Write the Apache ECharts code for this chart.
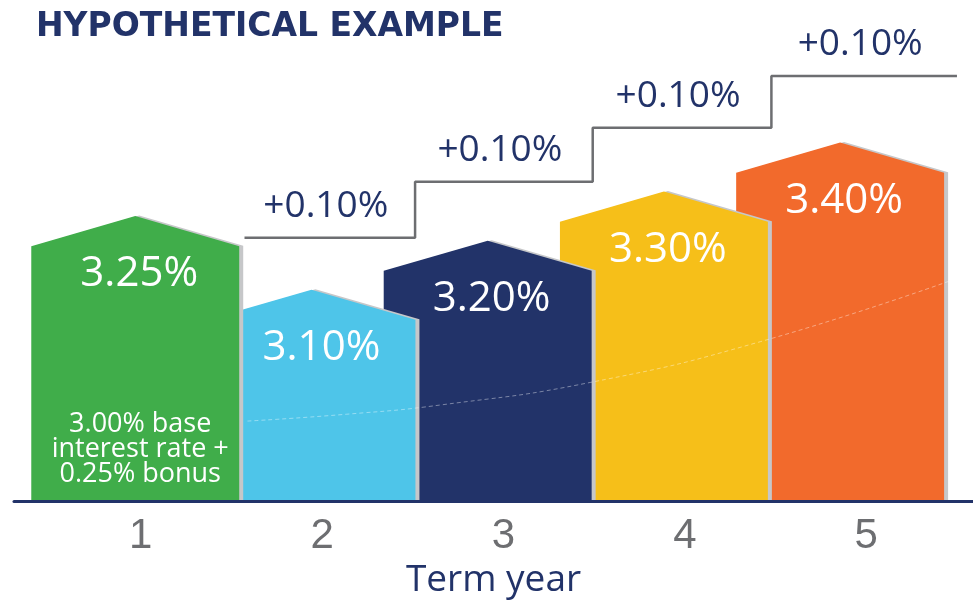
<!DOCTYPE html>
<html>
<head>
<meta charset="utf-8">
<script src="https://cdn.jsdelivr.net/npm/echarts@6/dist/echarts.min.js"></script>
<style>html,body{margin:0;padding:0;background:#fff}#chart{width:973px;height:600px}</style>
</head>
<body>
<div id="chart"></div>
<script>
// ---- data ----
const categories = ['1', '2', '3', '4', '5'];
const rates = [3.25, 3.10, 3.20, 3.30, 3.40];
const rateLabels = ['3.25%', '3.10%', '3.20%', '3.30%', '3.40%'];
const noteText = '3.00% base\ninterest rate +\n0.25% bonus';
const stepX = [1.62, 2.588, 3.596, 4.61, 5.663];
const stepY = [3.206, 3.32, 3.43, 3.536];
const stepLabels = ['+0.10%', '+0.10%', '+0.10%', '+0.10%'];
const curveX = [1.637, 2.2, 2.736, 3.585, 4.548, 5.624];
const curveY = [2.832, 2.846, 2.865, 2.911, 2.994, 3.118];

// ---- styles ----
const palette = ['#40AD4A', '#4EC5E9', '#223369', '#F6BF19', '#F26A2C'];
const NAVY = '#223369';
const GRAY = '#6D6E71';
const Y_MIN = 2.669, Y_MAX = 3.60;

const stepPoints = stepX.map((x, i) => [x, stepY[Math.min(i, stepY.length - 1)]]);
const stepLabelPoints = stepY.map((y, i) => [(stepX[i] + stepX[i + 1]) / 2, y]);
const curvePoints = curveX.map((x, i) => [x, curveY[i]]);

const chart = echarts.init(document.getElementById('chart'));
chart.setOption({
  animation: false,
  title: {
    text: 'HYPOTHETICAL EXAMPLE', left: 31, top: 6,
    textStyle: { fontFamily: 'DejaVu Sans', fontWeight: 'bold', fontSize: 33, color: NAVY }
  },
  grid: [
    { left: 14, right: 0, top: 44.5, bottom: 99, outerBoundsMode: 'none', containLabel: false },
    { left: 50, right: 16, top: 44.5, bottom: 99, outerBoundsMode: 'none', containLabel: false }
  ],
  xAxis: [
    {
      type: 'value', gridIndex: 0, min: 0.312, max: 5.754, z: 10,
      axisLine: { show: true, onZero: false, lineStyle: { color: NAVY, width: 3 } },
      axisTick: { show: false }, axisLabel: { show: false }, splitLine: { show: false },
      name: 'Term year', nameLocation: 'middle', nameGap: 61,
      nameTextStyle: { fontFamily: 'Open Sans', fontSize: 37, color: NAVY }
    },
    {
      type: 'category', gridIndex: 1, data: categories,
      axisLine: { show: false, onZero: false }, axisTick: { show: false },
      axisLabel: { margin: 14, fontFamily: 'Liberation Sans', fontSize: 42, color: GRAY }
    }
  ],
  yAxis: [
    { type: 'value', gridIndex: 0, min: Y_MIN, max: Y_MAX, show: false },
    { type: 'value', gridIndex: 1, min: Y_MIN, max: Y_MAX, show: false }
  ],
  series: [
    {
      type: 'custom', xAxisIndex: 0, yAxisIndex: 0,
      data: rates.map((v, i) => [i + 1, v]),
      renderItem: function (params, api) {
        const i = params.dataIndex;
        const top = api.coord([api.value(0), api.value(1)]);
        const base = api.coord([api.value(0), Y_MIN])[1];
        const hw = api.size([1, 0])[0] * 0.59;
        const roof = hw * 0.29;
        const cx = top[0], py = top[1];
        const pts = [[cx - hw, base], [cx - hw, py + roof], [cx, py], [cx + hw, py + roof], [cx + hw, base]];
        const zb = (10 - i) * 10;
        const children = [
          { type: 'polygon', z2: zb, shape: { points: pts.map(p => [p[0] + 4, p[1] - 0.5]) }, style: { fill: '#C6C7C9' } },
          { type: 'polygon', z2: zb + 1, shape: { points: pts }, style: { fill: palette[i] } },
          { type: 'text', z2: zb + 2, x: cx + (i === 1 ? 10 : 4), y: py + roof + 28,
            style: { text: rateLabels[i], fill: '#fff', fontFamily: 'Open Sans', fontSize: 42, align: 'center', verticalAlign: 'middle' } }
        ];
        if (i === 0) {
          children.push({ type: 'text', z2: zb + 2, x: cx + 5, y: base - 52,
            style: { text: noteText, fill: '#fff', fontFamily: 'Open Sans', fontSize: 27, lineHeight: 25, align: 'center', verticalAlign: 'middle' } });
        }
        return { type: 'group', children: children };
      }
    },
    {
      type: 'line', xAxisIndex: 0, yAxisIndex: 0, z: 3,
      data: curvePoints, smooth: true, symbol: 'none',
      lineStyle: { color: 'rgba(255,255,255,0.4)', width: 1, type: [4, 3] }
    },
    {
      type: 'line', xAxisIndex: 0, yAxisIndex: 0, step: 'end',
      data: stepPoints, symbol: 'none',
      lineStyle: { color: GRAY, width: 2.5 }
    },
    {
      type: 'custom', xAxisIndex: 0, yAxisIndex: 0,
      data: stepLabelPoints,
      renderItem: function (params, api) {
        const p = api.coord([api.value(0), api.value(1)]);
        return { type: 'text', x: p[0] - 4, y: p[1] - 31,
          style: { text: stepLabels[params.dataIndex], fill: NAVY, fontFamily: 'Open Sans', fontSize: 37, align: 'center', verticalAlign: 'middle' } };
      }
    }
  ]
});
</script>
</body>
</html>
